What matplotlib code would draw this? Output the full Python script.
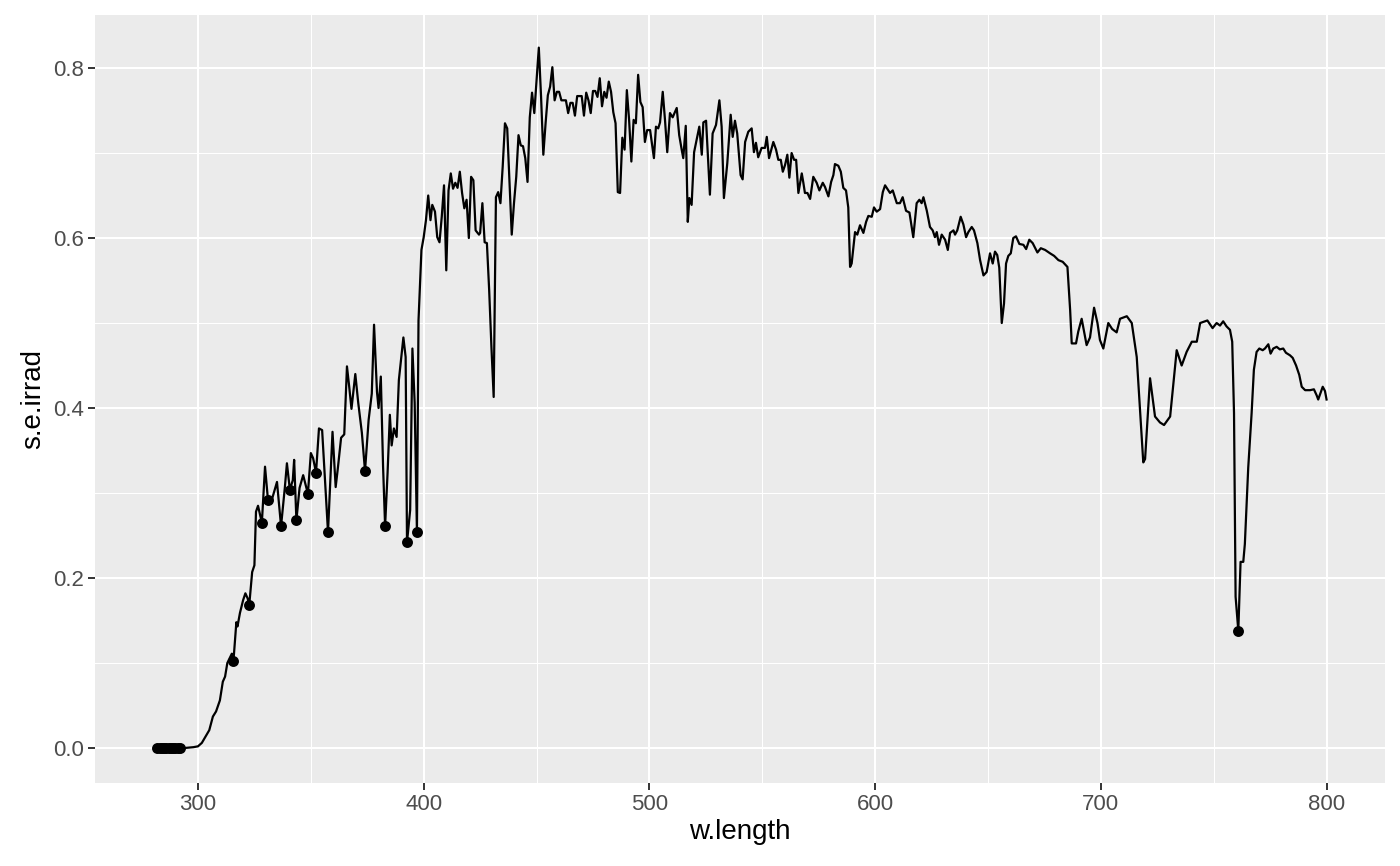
import numpy as np
import matplotlib.pyplot as plt
import matplotlib as mpl

mpl.rcParams['font.family'] = ['Liberation Sans', 'DejaVu Sans']

# Spectral irradiance (wavelength in nm, W m-2 nm-1)
w_length = [
    282, 283, 284, 285, 286, 287, 288, 289, 290, 291, 292, 294, 296, 298, 300,
    301.7, 303, 305, 306.6, 308, 309.7, 311, 312, 313, 315, 315.7, 317, 317.5,
    318.6, 320, 321, 322, 322.7, 324, 325, 325.7, 326.6, 328.3, 329.7, 331,
    332.7, 335, 336.8, 338.5, 339.4, 340.7, 342, 342.6, 343.6, 345, 346.6,
    348.7, 350, 351, 352.3, 353.6, 355, 356.3, 357.6, 359.6, 361, 362, 363.4,
    364.8, 366, 367, 368, 369.7, 371, 372.6, 374, 375.6, 377, 378, 379.3, 380,
    381, 382, 382.9, 384, 385, 385.8, 386.8, 388, 389, 391, 392, 392.6, 394,
    395, 396, 397, 397.7, 399, 400, 401, 402, 403, 403.8, 405, 406, 407, 408,
    409, 410, 411, 412, 413, 414, 415, 416, 417, 418, 419, 420, 421, 422, 423,
    424.5, 425, 426, 427, 428, 429, 430, 431, 432, 433, 434, 435, 436, 437, 438,
    439, 440, 441, 442, 443, 444, 445, 446, 447, 448, 449, 450, 451, 452, 453,
    454, 455, 456, 457, 458, 459, 460, 461, 462, 463, 464, 465, 466, 467, 468,
    469, 470, 471, 472, 473, 474, 475, 476, 477, 478, 479, 480, 481, 482, 483,
    484, 485, 486, 487, 488, 489, 490, 491, 492, 493, 494, 495, 496, 497, 498,
    499, 500.3, 502, 502.9, 503.9, 504.7, 505.9, 506.9, 507.9, 509.1, 510.3,
    512.1, 513.2, 514.3, 515, 516.1, 517, 517.7, 518.7, 519.8, 521, 522.1,
    523.2, 523.9, 525.1, 526.8, 528, 529.5, 531, 532, 533, 534.5, 536, 536.9,
    537.9, 538.9, 540.4, 541.3, 542.4, 543.8, 545.3, 546.3, 547.2, 548.2,
    549.7, 551.2, 552, 553, 554.9, 556.1, 557.1, 558.2, 559.1, 560.1, 561.1,
    562, 563, 564.1, 565, 566, 567.5, 568.2, 568.9, 570, 571.2, 572.6, 574.1,
    575.3, 576.8, 577.8, 579.3, 580.5, 581.5, 582.2, 583.7, 584.8, 585.9,
    587.1, 588.1, 588.9, 589.6, 591.1, 592.1, 593.3, 594.8, 596, 597, 598.5,
    599.5, 600.7, 602.2, 603.4, 604.4, 605.4, 606.6, 607.8, 609.6, 611, 612.2,
    613.7, 615.2, 616.9, 618.4, 619.6, 620.6, 621.4, 622.9, 624.3, 625.5,
    626.5, 627.3, 628.3, 629.5, 631, 632.2, 633.2, 634.7, 635.4, 636.4, 637.9,
    639.1, 640.3, 641.3, 642.8, 643.8, 645.3, 646.5, 648, 649.4, 650.9, 652.1,
    653.1, 654.1, 655, 656.1, 657.1, 658, 659, 660.1, 661.2, 662.4, 663.9,
    665.7, 666.9, 668.3, 669.8, 671.9, 673.4, 675.3, 677.5, 679.3, 681.2,
    683.1, 685.2, 686.4, 687.1, 689, 690, 691.5, 693.7, 695.2, 697, 698.5,
    699.6, 701.1, 703.3, 705, 707, 708.5, 711.5, 713.7, 715.9, 718.8, 719.6,
    721.8, 724, 726.2, 728, 730.7, 733.6, 735.8, 738, 740.3, 742.5, 744,
    747.2, 749.5, 751.3, 752.8, 754.2, 755.7, 757.2, 758.2, 759, 759.7, 760.9,
    761.9, 763.1, 763.8, 765.3, 766.8, 767.8, 769, 770.2, 771.7, 772.7, 774.2,
    775.2, 776.4, 777.9, 779.3, 780.8, 782, 783.8, 785, 786.5, 787.9, 789,
    790.5, 792.7, 794.4, 795.6, 796.3, 798.3, 799.3, 800,
]
s_e_irrad = [
    0, 0, 0, 0, 0, 0, 0, 0, 0, 0, 0, 0, 0.0005, 0.001, 0.002,
    0.006, 0.012, 0.021, 0.037, 0.043, 0.056, 0.078, 0.084, 0.1, 0.111, 0.102,
    0.148, 0.143, 0.159, 0.174, 0.182, 0.176, 0.168, 0.207, 0.215, 0.278,
    0.285, 0.265, 0.331, 0.292, 0.292, 0.313, 0.261, 0.307, 0.335, 0.304,
    0.315, 0.339, 0.268, 0.306, 0.321, 0.299, 0.347, 0.341, 0.324, 0.376,
    0.374, 0.315, 0.254, 0.372, 0.307, 0.33, 0.365, 0.369, 0.449, 0.425,
    0.399, 0.44, 0.406, 0.371, 0.326, 0.386, 0.417, 0.498, 0.419, 0.4, 0.437,
    0.331, 0.261, 0.324, 0.392, 0.356, 0.376, 0.366, 0.433, 0.483, 0.46,
    0.242, 0.28, 0.47, 0.406, 0.254, 0.503, 0.586, 0.601, 0.621, 0.65, 0.621,
    0.639, 0.631, 0.601, 0.595, 0.625, 0.662, 0.562, 0.656, 0.676, 0.658,
    0.665, 0.659, 0.678, 0.653, 0.635, 0.645, 0.6, 0.672, 0.668, 0.609, 0.604,
    0.606, 0.641, 0.595, 0.594, 0.539, 0.472, 0.413, 0.648, 0.654, 0.641,
    0.684, 0.735, 0.729, 0.668, 0.604, 0.641, 0.672, 0.721, 0.709, 0.708,
    0.694, 0.666, 0.742, 0.771, 0.747, 0.786, 0.824, 0.766, 0.698, 0.735,
    0.768, 0.778, 0.801, 0.762, 0.772, 0.772, 0.762, 0.762, 0.762, 0.747,
    0.759, 0.759, 0.744, 0.767, 0.767, 0.767, 0.744, 0.771, 0.762, 0.747,
    0.773, 0.773, 0.766, 0.788, 0.755, 0.772, 0.765, 0.784, 0.772, 0.748,
    0.735, 0.654, 0.653, 0.718, 0.704, 0.774, 0.739, 0.69, 0.739, 0.735,
    0.792, 0.76, 0.754, 0.713, 0.727, 0.727, 0.694, 0.731, 0.729, 0.736,
    0.772, 0.739, 0.701, 0.747, 0.742, 0.753, 0.721, 0.704, 0.694, 0.732,
    0.619, 0.647, 0.639, 0.701, 0.717, 0.731, 0.698, 0.736, 0.738, 0.651,
    0.723, 0.733, 0.762, 0.731, 0.647, 0.688, 0.745, 0.719, 0.738, 0.723,
    0.674, 0.669, 0.713, 0.725, 0.729, 0.701, 0.712, 0.695, 0.706, 0.706,
    0.719, 0.694, 0.713, 0.704, 0.692, 0.692, 0.678, 0.686, 0.698, 0.671, 0.7,
    0.692, 0.692, 0.653, 0.676, 0.665, 0.653, 0.653, 0.646, 0.672, 0.665,
    0.656, 0.665, 0.66, 0.649, 0.666, 0.674, 0.687, 0.685, 0.678, 0.659,
    0.656, 0.636, 0.566, 0.57, 0.607, 0.604, 0.615, 0.606, 0.619, 0.626,
    0.625, 0.636, 0.631, 0.634, 0.654, 0.662, 0.658, 0.653, 0.656, 0.641,
    0.641, 0.648, 0.632, 0.63, 0.601, 0.641, 0.645, 0.641, 0.648, 0.632,
    0.613, 0.609, 0.601, 0.607, 0.592, 0.604, 0.598, 0.586, 0.606, 0.609,
    0.604, 0.609, 0.625, 0.616, 0.601, 0.607, 0.613, 0.609, 0.594, 0.574,
    0.556, 0.56, 0.582, 0.57, 0.584, 0.58, 0.565, 0.5, 0.523, 0.57, 0.579,
    0.582, 0.6, 0.602, 0.593, 0.592, 0.587, 0.598, 0.594, 0.583, 0.588,
    0.586, 0.582, 0.579, 0.574, 0.572, 0.566, 0.515, 0.476, 0.476, 0.49,
    0.505, 0.474, 0.483, 0.518, 0.5, 0.48, 0.47, 0.5, 0.493, 0.489, 0.505,
    0.508, 0.5, 0.46, 0.336, 0.34, 0.435, 0.39, 0.383, 0.38, 0.39, 0.468,
    0.45, 0.466, 0.478, 0.478, 0.5, 0.503, 0.494, 0.5, 0.497, 0.502, 0.496,
    0.492, 0.478, 0.394, 0.178, 0.138, 0.219, 0.219, 0.24, 0.33, 0.394,
    0.445, 0.466, 0.47, 0.468, 0.47, 0.475, 0.464, 0.47, 0.472, 0.469, 0.47,
    0.465, 0.462, 0.459, 0.45, 0.439, 0.425, 0.421, 0.421, 0.422, 0.415,
    0.41, 0.425, 0.42, 0.41,
]

# Wavelengths of the local minima (valleys) marked with points
valley_wl = [282, 283, 284, 285, 286, 287, 288, 289, 290, 291, 292,
             315.7, 322.7, 328.3, 331, 336.8, 340.7, 343.6, 348.7, 352.3,
             357.6, 374, 382.9, 392.6, 397, 760.9]

x_breaks = [300, 400, 500, 600, 700, 800]
y_breaks = [0.0, 0.2, 0.4, 0.6, 0.8]

wl = np.array(w_length)
irr = np.array(s_e_irrad)
valley_irr = np.interp(valley_wl, wl, irr)

fig = plt.figure(figsize=(14, 8.66), dpi=100)
ax = fig.add_axes([0.0679, 0.0958, 0.9214, 0.8869])
ax.set_facecolor('#EBEBEB')

ax.plot(wl, irr, color='black', linewidth=1.6, zorder=3)
ax.scatter(valley_wl, valley_irr, s=62, color='black', linewidths=0, zorder=4)

ax.set_xlim(254.4, 825.9)
ax.set_ylim(-0.0412, 0.8624)
ax.set_xticks(x_breaks)
ax.set_xticklabels([str(x) for x in x_breaks])
ax.set_yticks(y_breaks)
ax.set_yticklabels(['%.1f' % y for y in y_breaks])
ax.set_xticks([350, 450, 550, 650, 750], minor=True)
ax.set_yticks([0.1, 0.3, 0.5, 0.7], minor=True)

ax.grid(which='major', color='white', linewidth=1.5, zorder=0)
ax.grid(which='minor', color='white', linewidth=0.75, zorder=0)
ax.set_axisbelow(True)
for s in ax.spines.values():
    s.set_visible(False)

ax.tick_params(which='major', length=5, width=1.4, color='#333333',
               labelcolor='#4D4D4D', labelsize=16, pad=3)
ax.tick_params(which='minor', length=0)

ax.set_xlabel('w.length', fontsize=20, color='black', labelpad=3)
ax.set_ylabel('s.e.irrad', fontsize=20, color='black', labelpad=5)

fig.savefig('out.png', dpi=100)
